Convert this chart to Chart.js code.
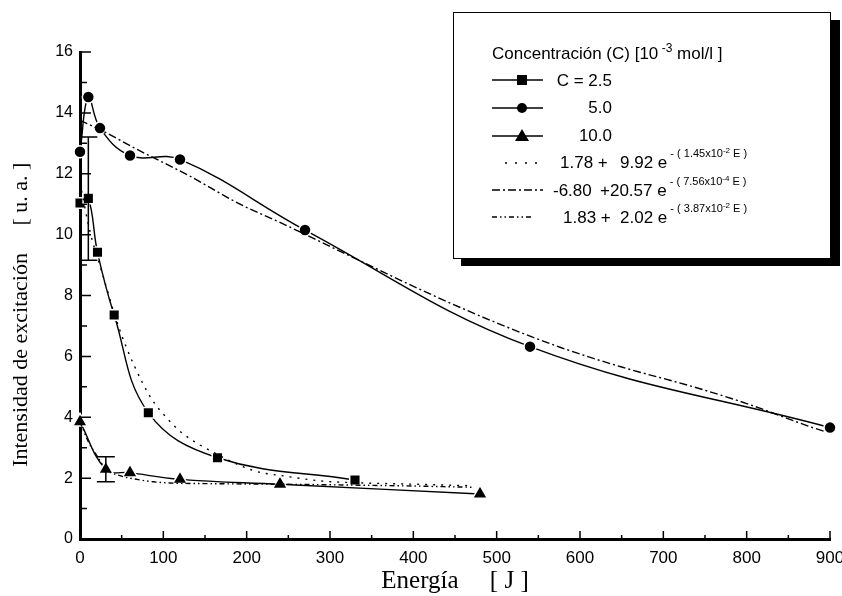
<!DOCTYPE html>
<html lang="es">
<head>
  <meta charset="UTF-8" />
  <title>Intensidad de excitación vs Energía</title>
  <script src="https://cdn.jsdelivr.net/npm/chart.js"></script>
  <style>
    html, body { margin: 0; padding: 0; background: #fff; }
    #caja { width: 842px; height: 596px; position: relative; }
  </style>
</head>
<body>
  <div id="caja"><canvas id="grafico"></canvas></div>

  <script>
    // datos medidos: C = 2.5, 5.0 y 10.0 [10^-3 mol/l]
    const energiaC25 = [0, 10, 21, 41, 82, 165, 330];
    const intensC25 = [11.04, 11.19, 9.42, 7.36, 4.15, 2.67, 1.94];

    const energiaC50 = [0, 10, 24, 60, 120, 270, 540, 900];
    const intensC50 = [12.72, 14.52, 13.5, 12.6, 12.47, 10.15, 6.32, 3.66];

    const energiaC100 = [0, 31, 60, 120, 240, 480];
    const intensC100 = [3.85, 2.29, 2.18, 1.96, 1.8, 1.48];

    // curvas de ajuste
    const ajusteC25E = [0, 12, 26, 46, 65, 86, 105, 124, 160, 208, 250, 292, 330, 400, 470];
    const ajusteC25I = [11.7, 10.1, 8.8, 7.0, 5.7, 4.6, 3.95, 3.45, 2.85, 2.25, 2.05, 1.9, 1.85, 1.8, 1.75];

    const ajusteC50E = [0, 24, 72, 130, 192, 240, 320, 420, 500, 576, 650, 736, 800, 876, 895];
    const ajusteC50I = [13.75, 13.45, 12.75, 11.95, 11.0, 10.4, 9.35, 8.05, 7.1, 6.3, 5.65, 5.0, 4.45, 3.69, 3.52];

    const ajusteC100E = [0, 10, 20, 31, 48, 70, 88, 108, 150, 240, 330, 400, 470];
    const ajusteC100I = [3.85, 3.2, 2.75, 2.3, 2.08, 1.95, 1.88, 1.84, 1.82, 1.8, 1.77, 1.74, 1.7];

    // barras de error
    const errorE = [10, 31];
    const errorBajo = [9.16, 1.88];
    const errorAlto = [13.21, 2.7];

    const puntos = (xs, ys) => xs.map((x, i) => ({ x: x, y: ys[i] }));

    function curva(xs, ys, trazo) {
      return {
        data: puntos(xs, ys),
        showLine: true,
        borderColor: '#000',
        borderWidth: 1.4,
        borderDash: trazo,
        pointRadius: 0,
        cubicInterpolationMode: 'monotone',
        clip: false
      };
    }

    function serie(xs, ys, estilo, radio) {
      return {
        data: puntos(xs, ys),
        showLine: true,
        borderColor: '#000',
        borderWidth: 1.4,
        tension: 0.4,
        pointStyle: estilo,
        pointRadius: radio,
        pointBackgroundColor: '#000',
        pointBorderColor: '#fff',
        pointBorderWidth: 1.5,
        clip: false
      };
    }

    // marcas de los ejes hacia adentro
    const marcas = {
      id: 'marcas',
      afterDraw(chart) {
        const { ctx, chartArea, scales } = chart;
        ctx.save();
        ctx.strokeStyle = '#000';
        ctx.lineWidth = 1.5;
        ctx.beginPath();
        scales.x.ticks.forEach(t => {
          const px = scales.x.getPixelForValue(t.value);
          const l = t.value % 100 === 0 ? 8 : 4;
          ctx.moveTo(px, chartArea.bottom);
          ctx.lineTo(px, chartArea.bottom - l);
        });
        scales.y.ticks.forEach(t => {
          const py = scales.y.getPixelForValue(t.value);
          const l = t.value % 2 === 0 ? 11 : 7;
          ctx.moveTo(chartArea.left, py);
          ctx.lineTo(chartArea.left + l, py);
        });
        ctx.stroke();
        ctx.restore();
      }
    };

    const barrasError = {
      id: 'barrasError',
      afterDatasetsDraw(chart) {
        const { ctx, scales: { x, y } } = chart;
        ctx.save();
        ctx.strokeStyle = '#000';
        ctx.lineWidth = 1.5;
        ctx.beginPath();
        errorE.forEach((e, i) => {
          const px = x.getPixelForValue(e);
          const y1 = y.getPixelForValue(errorBajo[i]);
          const y2 = y.getPixelForValue(errorAlto[i]);
          ctx.moveTo(px, y1); ctx.lineTo(px, y2);
          ctx.moveTo(px - 9, y1); ctx.lineTo(px + 9, y1);
          ctx.moveTo(px - 9, y2); ctx.lineTo(px + 9, y2);
        });
        ctx.stroke();
        ctx.restore();
      }
    };

    function textoSup(ctx, partes, x, y) {
      // partes: [texto, tamaño, subida]
      partes.forEach(p => {
        ctx.font = p[1] + 'px "Liberation Sans"';
        ctx.fillText(p[0], x, y - p[2]);
        x += ctx.measureText(p[0]).width;
      });
    }

    const leyenda = {
      id: 'leyenda',
      afterDraw(chart) {
        const ctx = chart.ctx;
        ctx.save();
        ctx.fillStyle = '#fff';
        ctx.fillRect(453, 12, 377, 246);
        ctx.strokeStyle = '#000';
        ctx.lineWidth = 1;
        ctx.strokeRect(453.5, 12.5, 377, 246);
        ctx.fillStyle = '#000';
        ctx.fillRect(830, 20, 10, 246);
        ctx.fillRect(461, 258, 379, 8);

        ctx.textBaseline = 'alphabetic';
        textoSup(ctx, [['Concentración (C) [10', 17, 0], [' -3', 12, 7], [' mol/l ]', 17, 0]], 492, 59);

        // muestras de las series
        ctx.lineWidth = 1.4;
        [80, 108, 136].forEach(yy => {
          ctx.beginPath(); ctx.moveTo(492, yy); ctx.lineTo(543, yy); ctx.stroke();
        });
        ctx.fillRect(517, 75, 10, 10);
        ctx.beginPath(); ctx.arc(522, 108, 5, 0, Math.PI * 2); ctx.fill();
        ctx.beginPath(); ctx.moveTo(522, 129); ctx.lineTo(529, 141); ctx.lineTo(515, 141); ctx.closePath(); ctx.fill();

        const trazos = [[[2, 8], 163, 505, 540], [[8, 3, 2, 3], 190, 492, 543], [[5, 3, 1.5, 3, 1.5, 3], 217, 492, 533]];
        trazos.forEach(t => {
          ctx.setLineDash(t[0]);
          ctx.beginPath(); ctx.moveTo(t[2], t[1]); ctx.lineTo(t[3], t[1]); ctx.stroke();
        });
        ctx.setLineDash([]);

        ctx.font = '17px "Liberation Sans"';
        ctx.textAlign = 'right';
        ctx.fillText('C = 2.5', 612, 86);
        ctx.fillText('5.0', 612, 113);
        ctx.fillText('10.0', 612, 141);
        ctx.textAlign = 'left';

        ctx.fillText('1.78 +', 560, 168);
        textoSup(ctx, [['9.92 e', 17, 0], [' - ( 1.45x10', 11, 11], ['-2', 8, 15], [' E )', 11, 11]], 620, 168);
        ctx.font = '17px "Liberation Sans"';
        ctx.fillText('-6.80', 553, 196);
        textoSup(ctx, [['+20.57 e', 17, 0], [' - ( 7.56x10', 11, 11], ['-4', 8, 15], [' E )', 11, 11]], 600, 196);
        ctx.font = '17px "Liberation Sans"';
        ctx.fillText('1.83 +', 563, 223);
        textoSup(ctx, [['2.02 e', 17, 0], [' - ( 3.87x10', 11, 11], ['-2', 8, 15], [' E )', 11, 11]], 620, 223);
        ctx.restore();
      }
    };

    new Chart(document.getElementById('grafico'), {
      type: 'scatter',
      data: {
        datasets: [
          curva(ajusteC25E, ajusteC25I, [2, 6]),
          curva(ajusteC50E, ajusteC50I, [8, 3, 2, 3]),
          curva(ajusteC100E, ajusteC100I, [5, 3, 1.5, 3, 1.5, 3]),
          serie(energiaC25, intensC25, 'rect', 7.5),
          serie(energiaC50, intensC50, 'circle', 6),
          serie(energiaC100, intensC100, 'triangle', 8.5)
        ]
      },
      options: {
        responsive: true,
        maintainAspectRatio: false,
        animation: false,
        layout: { padding: { left: 0, right: 12, top: 52, bottom: 0 } },
        plugins: { legend: { display: false }, tooltip: { enabled: false } },
        scales: {
          x: {
            type: 'linear',
            min: 0,
            max: 900,
            afterFit: s => { s.height = 57; s.paddingLeft = 0; s.paddingRight = 0; },
            grid: { display: true, drawOnChartArea: false, drawTicks: false },
            border: { display: true, color: '#000', width: 3 },
            ticks: {
              stepSize: 50, autoSkip: false, maxRotation: 0, padding: 9, color: '#000',
              font: { family: 'Liberation Sans', size: 17 },
              callback: v => (v % 100 === 0 ? v : '')
            },
            title: {
              display: true, text: 'Energía     [ J ]', color: '#000',
              font: { family: 'Liberation Serif', size: 25 }, padding: { top: 0, bottom: 0 }
            }
          },
          y: {
            min: 0,
            max: 16,
            afterFit: s => { s.width = 80; },
            grid: { display: true, drawOnChartArea: false, drawTicks: false },
            border: { display: true, color: '#000', width: 3 },
            ticks: {
              stepSize: 1, autoSkip: false, padding: 7, color: '#000',
              font: { family: 'Liberation Sans', size: 16 },
              callback: v => (v % 2 === 0 ? v : '')
            },
            title: {
              display: true, text: 'Intensidad de excitación     [ u. a. ]\u00a0\u00a0\u00a0\u00a0\u00a0\u00a0\u00a0', color: '#000',
              font: { family: 'Liberation Serif', size: 22 }, padding: { top: 8, bottom: 0 }
            }
          }
        }
      },
      plugins: [marcas, barrasError, leyenda]
    });
  </script>
</body>
</html>
